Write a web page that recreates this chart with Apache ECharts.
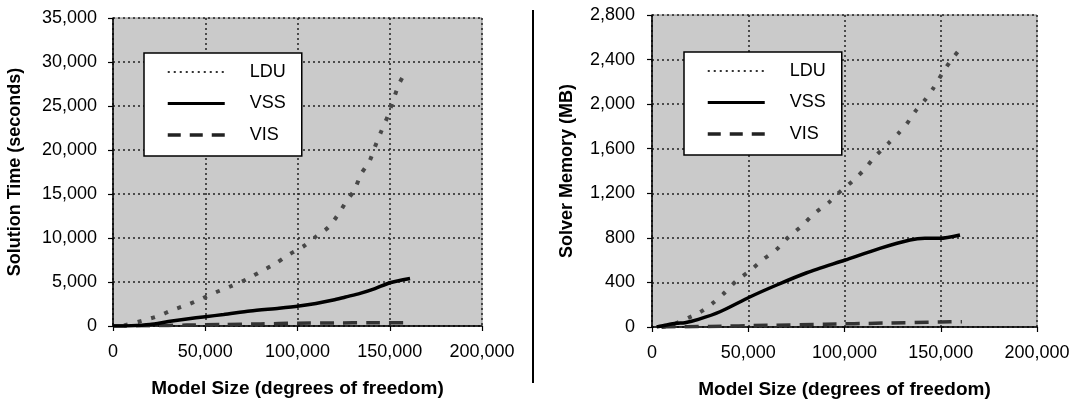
<!DOCTYPE html>
<html>
<head>
<meta charset="utf-8">
<script src="https://cdn.jsdelivr.net/npm/echarts@6/dist/echarts.min.js"></script>
<style>
html,body{margin:0;padding:0;background:#fff;}
#c{width:1076px;height:406px;}
</style>
</head>
<body>
<div id="c"></div>
<script>
// ---- data ----
const seriesNames = ['LDU', 'VSS', 'VIS'];
const xTicks = [0, 50000, 100000, 150000, 200000];
const timeTicks = [0, 5000, 10000, 15000, 20000, 25000, 30000, 35000];
const memTicks = [0, 400, 800, 1200, 1600, 2000, 2400, 2800];
const xAxisTitle = 'Model Size (degrees of freedom)';
const timeAxisTitle = 'Solution Time (seconds)';
const memAxisTitle = 'Solver Memory (MB)';

// Solution time (seconds) vs model size (dof)
const timeLDU = [[6000, 60], [17300, 680], [24600, 1140], [32300, 1820], [40800, 2460], [48600, 3150],
  [55800, 3830], [64300, 4550], [72400, 5300], [80900, 6280], [88300, 7120], [95000, 8070],
  [103500, 9090], [110400, 10230], [116700, 11210], [122500, 12810], [126300, 14120], [130600, 15370],
  [134700, 17350], [138900, 18670], [142000, 20370], [145300, 22080], [149200, 23980], [151900, 25680],
  [155200, 27580], [159200, 29090]];
const timeVSS = [[0, 0], [10000, 30], [20000, 170], [30000, 500], [40000, 790], [50000, 1060], [60000, 1300],
  [74300, 1700], [90000, 2020], [100800, 2270], [110000, 2560], [119400, 2950], [126000, 3300],
  [133900, 3710], [142000, 4250], [150100, 4920], [161000, 5400]];
const timeVIS = [[0, 0], [20000, 30], [40000, 100], [60000, 170], [80000, 240], [100000, 320],
  [120000, 350], [140000, 360], [161000, 370]];

// Solver memory (MB) vs model size (dof)
const memLDU = [[5000, 0], [9400, 12], [24400, 128], [31000, 206], [37000, 296], [44000, 416], [50900, 505],
  [57800, 607], [64800, 697], [70800, 805], [78300, 915], [83800, 1011], [91700, 1115], [96800, 1200],
  [103800, 1304], [110100, 1409], [115800, 1528], [122800, 1648], [128000, 1738], [132300, 1822],
  [136600, 1932], [141800, 2037], [146100, 2142], [151000, 2282], [155700, 2402], [161000, 2515]];
const memVSS = [[2400, 0], [7600, 18], [12800, 33], [17100, 39], [24100, 69], [35300, 137], [50500, 267],
  [64800, 377], [80400, 487], [100300, 601], [118400, 706], [134000, 781], [141800, 796],
  [149600, 796], [160000, 826]];
const memVIS = [[5000, 0], [30000, 5], [60000, 15], [90000, 25], [120000, 35], [150000, 45], [161000, 48]];

// ---- styles ----
const FONT = 'Liberation Sans, Arial, sans-serif';
const fmt = v => v.toLocaleString('en-US');
const lineStyles = {
  LDU: { color: '#484848', width: 4, type: [4, 10] },
  VSS: { color: '#000', width: 3.5, type: 'solid' },
  VIS: { color: '#333', width: 3.5, type: [14, 9] }
};
const legendStyles = {
  LDU: { color: '#333', width: 2, type: [2, 4] },
  VSS: { color: '#000', width: 3, type: 'solid' },
  VIS: { color: '#222', width: 3.5, type: [13, 9] }
};

function xAxisCfg(gi) {
  return {
    type: 'value', gridIndex: gi,
    min: xTicks[0], max: xTicks[xTicks.length - 1], interval: xTicks[1] - xTicks[0],
    name: xAxisTitle, nameLocation: 'middle', nameGap: 53,
    nameTextStyle: { fontFamily: FONT, fontSize: 19, fontWeight: 'bold', color: '#000' },
    axisLine: { lineStyle: { color: '#000', width: 1.5 } },
    axisTick: { show: true, length: 5, lineStyle: { color: '#000', width: 1.2 } },
    axisLabel: { formatter: fmt, fontFamily: FONT, fontSize: 18, color: '#000', margin: 17 },
    splitLine: { show: true, lineStyle: { color: '#222', width: 1.5, type: [2, 3] } }
  };
}
function yAxisCfg(gi, ticks, title, gap, margin) {
  return {
    type: 'value', gridIndex: gi,
    min: ticks[0], max: ticks[ticks.length - 1], interval: ticks[1] - ticks[0],
    name: title, nameLocation: 'middle', nameGap: gap, nameRotate: 90,
    nameTextStyle: { fontFamily: FONT, fontSize: 18, fontWeight: 'bold', color: '#000' },
    axisLine: { show: true, lineStyle: { color: '#000', width: 1.5 } },
    axisTick: { show: true, length: 5, lineStyle: { color: '#000', width: 1.2 } },
    axisLabel: { formatter: fmt, fontFamily: FONT, fontSize: 18, color: '#000', margin: margin },
    splitLine: { show: true, lineStyle: { color: '#222', width: 1.5, type: [2, 3] } }
  };
}
function legendCfg(left, top) {
  return {
    left: left, top: top, orient: 'vertical',
    backgroundColor: '#fff', borderColor: '#000', borderWidth: 1.5, borderRadius: 0,
    padding: [10, 16, 12, 22],
    itemWidth: 57, itemHeight: 18, itemGap: 13.5,
    textStyle: { fontFamily: FONT, fontSize: 18, color: '#000', padding: [0, 0, 0, 20] },
    data: seriesNames.map(n => ({ name: n, lineStyle: legendStyles[n], itemStyle: { opacity: 0 } })),
    itemStyle: { opacity: 0 },
    selectedMode: false
  };
}
function mkSeries(name, data, xi, yi) {
  return {
    name: name, type: 'line', data: data, xAxisIndex: xi, yAxisIndex: yi,
    symbol: 'none', showSymbol: false, smooth: 0.25,
    itemStyle: { color: lineStyles[name].color },
    lineStyle: lineStyles[name], z: name === 'VSS' ? 4 : 3
  };
}

const chart = echarts.init(document.getElementById('c'), null, { renderer: 'canvas' });
chart.setOption({
  backgroundColor: '#fff',
  animation: false,
  grid: [
    { left: 113, top: 18, width: 369, height: 308, show: true, backgroundColor: '#cacaca', borderColor: '#888', borderWidth: 1 },
    { left: 652, top: 15, width: 385, height: 312, show: true, backgroundColor: '#cacaca', borderColor: '#888', borderWidth: 1 }
  ],
  xAxis: [xAxisCfg(0), xAxisCfg(1)],
  yAxis: [yAxisCfg(0, timeTicks, timeAxisTitle, 89, 16), yAxisCfg(1, memTicks, memAxisTitle, 76, 17)],
  legend: [legendCfg(144, 53), legendCfg(684, 52)],
  series: [
    mkSeries('LDU', timeLDU, 0, 0),
    mkSeries('VSS', timeVSS, 0, 0),
    mkSeries('VIS', timeVIS, 0, 0),
    mkSeries('LDU', memLDU, 1, 1),
    mkSeries('VSS', memVSS, 1, 1),
    mkSeries('VIS', memVIS, 1, 1)
  ],
  graphic: [
    { type: 'line', shape: { x1: 533, y1: 10, x2: 533, y2: 383 }, style: { stroke: '#000', lineWidth: 2 } }
  ]
});
</script>
</body>
</html>
